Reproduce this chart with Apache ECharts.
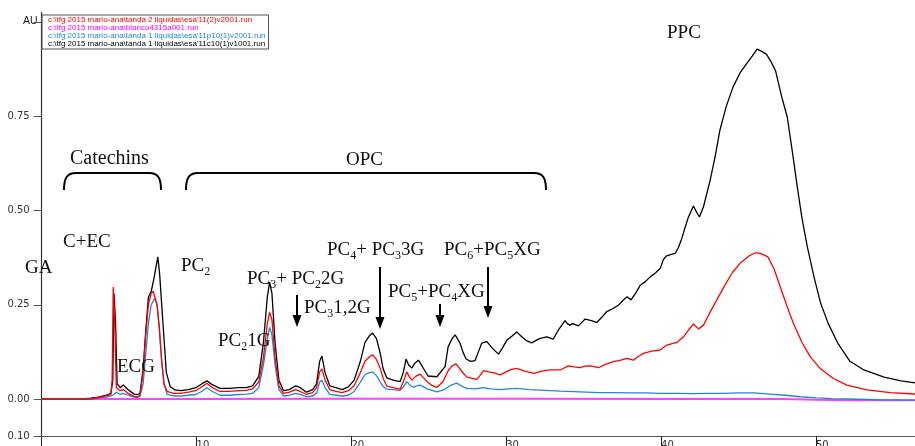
<!DOCTYPE html>
<html><head><meta charset="utf-8">
<script src="https://cdn.jsdelivr.net/npm/echarts@6/dist/echarts.min.js"></script>
<style>html,body{margin:0;padding:0;background:#fff}#c{width:915px;height:446px}</style>
</head><body><div id="c"></div>
<script>
// Run names (legend text)
const runRed = "c:\\tfg 2015 mario-ana\\tanda 2 liquidas\\esa'11(2)v2001.run";
const runMagenta = "c:\\tfg 2015 mario-ana\\blanco4315a001.run";
const runBlue = "c:\\tfg 2015 mario-ana\\tanda 1 liquidas\\esa'11p10(1)v2001.run";
const runBlack = "c:\\tfg 2015 mario-ana\\tanda 1 liquidas\\esa'11c10(1)v1001.run";

// Axis ticks
const xTickValues = [0, 10, 20, 30, 40, 50];
const xLabelValues = [10, 20, 30, 40, 50];
const yTickValues = [-0.1, 0, 0.25, 0.5, 0.75, 1.0];
const yLabelValues = [-0.1, 0, 0.25, 0.5, 0.75];
const yUnit = 'AU';

// Traces: [time (min), absorbance (AU)]
const traceBlack = [[0,0],[2.67,0],[3.17,0.002],[3.67,0.005],[4.17,0.01],[4.47,0.015],[4.59,0.05],[4.67,0.28],[4.77,0.2],[4.87,0.04],[5.07,0.03],[5.27,0.037],[5.57,0.025],[5.97,0.013],[6.2,0.012],[6.35,0.015],[6.55,0.08],[6.72,0.18],[6.89,0.27],[7.07,0.285],[7.25,0.32],[7.5,0.377],[7.62,0.33],[7.75,0.25],[7.9,0.16],[8.05,0.07],[8.3,0.033],[8.6,0.024],[8.97,0.022],[9.47,0.025],[9.95,0.03],[10.33,0.04],[10.67,0.048],[11.02,0.038],[11.52,0.028],[12.12,0.028],[12.72,0.03],[13.22,0.03],[13.62,0.035],[14.02,0.06],[14.32,0.15],[14.57,0.27],[14.72,0.31],[14.87,0.28],[15.07,0.15],[15.32,0.05],[15.62,0.022],[16.0,0.025],[16.4,0.035],[16.7,0.03],[17.1,0.018],[17.5,0.025],[17.75,0.04],[17.95,0.1],[18.1,0.114],[18.3,0.07],[18.6,0.035],[19.0,0.03],[19.4,0.025],[19.8,0.032],[20.18,0.05],[20.58,0.1],[20.88,0.15],[21.17,0.168],[21.37,0.175],[21.62,0.16],[21.87,0.12],[22.05,0.08],[22.29,0.056],[22.7,0.05],[23.15,0.046],[23.35,0.07],[23.53,0.106],[23.7,0.09],[23.9,0.082],[24.1,0.095],[24.33,0.103],[24.6,0.085],[24.95,0.061],[25.52,0.059],[26.05,0.086],[26.25,0.139],[26.5,0.16],[26.7,0.17],[27.02,0.148],[27.2,0.125],[27.41,0.106],[27.7,0.1],[27.99,0.102],[28.2,0.125],[28.42,0.148],[28.75,0.152],[29.1,0.135],[29.5,0.119],[29.75,0.135],[30.04,0.156],[30.4,0.168],[30.68,0.178],[31.0,0.165],[31.3,0.155],[31.65,0.149],[31.9,0.155],[32.19,0.161],[32.62,0.165],[33.03,0.159],[33.4,0.185],[33.8,0.208],[33.95,0.2],[34.1,0.196],[34.3,0.2],[34.66,0.194],[35.1,0.212],[35.5,0.208],[35.85,0.203],[36.2,0.218],[36.5,0.232],[36.9,0.24],[37.25,0.249],[37.55,0.262],[37.8,0.271],[38.06,0.263],[38.35,0.28],[38.66,0.302],[39.0,0.312],[39.3,0.324],[39.65,0.335],[39.95,0.347],[40.15,0.37],[40.33,0.379],[40.6,0.383],[40.91,0.386],[41.1,0.4],[41.34,0.426],[41.55,0.455],[41.77,0.483],[42.09,0.512],[42.3,0.495],[42.48,0.483],[42.74,0.51],[43.17,0.58],[43.5,0.645],[43.8,0.713],[44.2,0.775],[44.65,0.828],[45.1,0.865],[45.55,0.891],[45.9,0.91],[46.2,0.928],[46.5,0.922],[46.8,0.915],[47.1,0.895],[47.4,0.87],[47.8,0.8],[48.15,0.748],[48.5,0.65],[48.8,0.562],[49.1,0.48],[49.45,0.403],[49.9,0.32],[50.3,0.255],[50.8,0.2],[51.4,0.149],[52.2,0.1],[53.1,0.077],[54.4,0.058],[55.5,0.048],[56.5,0.042]];

const traceRed = [[0,0],[3.17,0],[3.67,0.004],[4.17,0.008],[4.47,0.012],[4.55,0.05],[4.62,0.297],[4.72,0.2],[4.82,0.03],[5.07,0.022],[5.27,0.025],[5.57,0.015],[5.97,0.007],[6.2,0.006],[6.35,0.01],[6.55,0.07],[6.72,0.17],[6.89,0.25],[7.07,0.28],[7.2,0.286],[7.32,0.288],[7.45,0.25],[7.6,0.19],[7.75,0.1],[7.9,0.04],[8.1,0.02],[8.5,0.015],[8.97,0.015],[9.47,0.018],[9.95,0.022],[10.33,0.032],[10.67,0.042],[11.02,0.03],[11.52,0.02],[12.12,0.02],[12.72,0.022],[13.22,0.023],[13.62,0.027],[14.02,0.045],[14.32,0.11],[14.57,0.2],[14.72,0.23],[14.87,0.21],[15.07,0.11],[15.32,0.035],[15.62,0.015],[16.0,0.018],[16.4,0.025],[16.7,0.02],[17.1,0.012],[17.5,0.017],[17.75,0.03],[17.95,0.072],[18.1,0.08],[18.3,0.05],[18.6,0.025],[19.0,0.02],[19.4,0.017],[19.8,0.022],[20.18,0.035],[20.58,0.07],[20.88,0.1],[21.17,0.112],[21.37,0.117],[21.62,0.105],[21.87,0.08],[22.05,0.055],[22.29,0.034],[22.7,0.03],[23.15,0.026],[23.35,0.045],[23.58,0.072],[23.75,0.058],[23.9,0.05],[24.15,0.06],[24.44,0.066],[24.8,0.05],[25.2,0.036],[25.52,0.031],[25.9,0.045],[26.25,0.075],[26.5,0.088],[26.76,0.093],[27.1,0.075],[27.45,0.058],[28.1,0.052],[28.3,0.062],[28.54,0.075],[28.85,0.072],[29.17,0.07],[29.6,0.064],[30.0,0.072],[30.3,0.078],[30.68,0.081],[31.2,0.074],[31.76,0.068],[32.3,0.074],[32.84,0.077],[33.48,0.077],[34.02,0.088],[34.4,0.085],[34.77,0.083],[35.1,0.087],[35.42,0.088],[35.96,0.083],[36.4,0.092],[36.93,0.099],[37.4,0.103],[37.8,0.108],[38.22,0.103],[38.5,0.112],[38.86,0.121],[39.4,0.127],[39.94,0.13],[40.37,0.143],[41.02,0.15],[41.45,0.165],[41.77,0.183],[42.09,0.199],[42.42,0.186],[42.74,0.196],[43.1,0.225],[43.6,0.263],[44.1,0.3],[44.6,0.335],[45.1,0.36],[45.7,0.38],[46.1,0.388],[46.5,0.385],[46.9,0.377],[47.3,0.345],[47.7,0.297],[48.1,0.25],[48.55,0.2],[49.1,0.15],[49.65,0.111],[50.3,0.08],[51.1,0.055],[52.0,0.037],[53.3,0.024],[54.8,0.017],[56.5,0.013]];

const traceBlue = [[0,0],[3.17,0],[3.67,0.003],[4.17,0.005],[4.47,0.008],[4.67,0.012],[4.82,0.018],[5.07,0.012],[5.27,0.015],[5.57,0.01],[5.97,0.005],[6.2,0.004],[6.35,0.008],[6.55,0.04],[6.72,0.12],[6.89,0.2],[7.07,0.25],[7.3,0.267],[7.45,0.25],[7.6,0.18],[7.75,0.1],[7.9,0.04],[8.1,0.012],[8.5,0.008],[8.97,0.008],[9.47,0.01],[9.95,0.012],[10.33,0.02],[10.67,0.03],[11.02,0.02],[11.52,0.01],[12.12,0.01],[12.72,0.012],[13.22,0.013],[13.62,0.015],[14.02,0.03],[14.32,0.09],[14.57,0.16],[14.72,0.19],[14.87,0.17],[15.07,0.09],[15.32,0.025],[15.62,0.008],[16.0,0.01],[16.4,0.015],[16.7,0.012],[17.1,0.006],[17.5,0.008],[17.75,0.015],[17.95,0.045],[18.1,0.05],[18.3,0.03],[18.6,0.012],[19.0,0.01],[19.4,0.008],[19.8,0.01],[20.18,0.02],[20.58,0.045],[20.88,0.065],[21.17,0.07],[21.37,0.072],[21.62,0.062],[21.87,0.045],[22.05,0.033],[22.29,0.026],[22.7,0.025],[23.15,0.023],[23.35,0.032],[23.58,0.046],[23.8,0.036],[24.0,0.031],[24.2,0.035],[24.44,0.037],[24.9,0.027],[25.52,0.019],[26.0,0.025],[26.4,0.036],[26.8,0.042],[27.1,0.035],[27.45,0.028],[28.0,0.027],[28.5,0.03],[29.0,0.027],[29.6,0.025],[30.1,0.027],[30.68,0.028],[31.5,0.025],[32.5,0.023],[33.5,0.021],[34.77,0.019],[36.0,0.017],[37.0,0.017],[38.0,0.016],[39.0,0.016],[40.0,0.015],[41.0,0.015],[42.0,0.014],[43.0,0.015],[44.0,0.015],[45.0,0.016],[46.0,0.016],[47.0,0.013],[48.0,0.01],[49.0,0.006],[50.0,0.003],[51.0,0.001],[52.0,0],[54.0,-0.002],[56.5,-0.003]];

const traceMagenta = [[0,0],[10,0],[20,0.001],[26,0.001],[31,0.001],[40,0],[48,0],[50,-0.002],[52,-0.003],[56.5,-0.003]];

const chart = echarts.init(document.getElementById('c'), null, {renderer: 'canvas'});

const serifFont = '"Liberation Serif", "DejaVu Serif", serif';
const richSub = {
  b: {fontSize: 19, fontFamily: serifFont, fill: '#111'},
  c: {fontSize: 20, fontFamily: serifFont, fill: '#111'},
  s: {fontSize: 12, fontFamily: serifFont, fill: '#111', padding: [12, 0, 0, 0]}
};
function label(x, y, text) {
  return {type: 'text', x: x, y: y, z: 100,
    style: {text: text, fontSize: 19, fontFamily: serifFont, fill: '#111', verticalAlign: 'middle', rich: richSub}};
}
function arrow(x, y1, y2) {
  return {type: 'group', z: 100, children: [
    {type: 'line', shape: {x1: x, y1: y1, x2: x, y2: y2 - 10}, style: {stroke: '#000', lineWidth: 2}},
    {type: 'polygon', shape: {points: [[x - 4.5, y2 - 12], [x + 4.5, y2 - 12], [x, y2]]}, style: {fill: '#000'}}
  ]};
}
function brace(xl, xr, yTop, yEnd) {
  const st = {stroke: '#000', lineWidth: 2, fill: null};
  return {type: 'group', z: 100, children: [
    {type: 'bezierCurve', shape: {x1: xl, y1: yEnd, cpx1: xl, cpy1: yTop + 5, cpx2: xl + 3, cpy2: yTop, x2: xl + 12, y2: yTop}, style: st},
    {type: 'line', shape: {x1: xl + 12, y1: yTop, x2: xr - 12, y2: yTop}, style: st},
    {type: 'bezierCurve', shape: {x1: xr - 12, y1: yTop, cpx1: xr - 3, cpy1: yTop, cpx2: xr, cpy2: yTop + 5, x2: xr, y2: yEnd}, style: st}
  ]};
}

const option = {
  animation: false,
  backgroundColor: '#fff',
  grid: {left: 41.7, right: 0, top: 12.6, bottom: 9.3, outerBoundsMode: 'none', containLabel: false},
  legend: {
    orient: 'vertical', left: 42, top: 15,
    itemWidth: 0, itemHeight: 0, itemGap: 0,
    padding: [1, 3, 1, 0],
    borderColor: '#555', borderWidth: 1,
    selectedMode: false,
    textStyle: {fontSize: 8, lineHeight: 7.7, fontFamily: '"Liberation Sans", Arial, sans-serif'},
    data: [
      {name: runRed, textStyle: {color: '#ff0000'}},
      {name: runMagenta, textStyle: {color: '#ff00ff'}},
      {name: runBlue, textStyle: {color: '#1f8ad0'}},
      {name: runBlack, textStyle: {color: '#000'}}
    ]
  },
  xAxis: {
    type: 'value', min: 0, max: 56.4,
    splitLine: {show: false},
    axisLine: {onZero: false, lineStyle: {color: '#555', width: 1.2}},
    axisTick: {customValues: xTickValues, length: 10, lineStyle: {color: '#222'}},
    axisLabel: {customValues: xLabelValues, align: 'left', margin: 4, fontSize: 10, color: '#333', fontFamily: '"DejaVu Sans", sans-serif'}
  },
  yAxis: {
    type: 'value', min: -0.1, max: 1.025,
    splitLine: {show: false},
    axisLine: {show: true, onZero: false, lineStyle: {color: '#333', width: 1.2}},
    axisTick: {show: true, customValues: yTickValues, length: 8, lineStyle: {color: '#555'}},
    axisLabel: {
      customValues: yLabelValues, margin: 12, fontSize: 10, color: '#333', fontFamily: '"DejaVu Sans", sans-serif',
      formatter: function (v) { return Math.abs(v).toFixed(2); }
    }
  },
  series: [
    {name: runMagenta, type: 'line', data: traceMagenta, showSymbol: false, color: '#ff00ff', lineStyle: {width: 2, color: '#ff40ff'}},
    {name: runBlack, type: 'line', data: traceBlack, showSymbol: false, color: '#000', lineStyle: {width: 1.3, color: '#000'}},
    {name: runBlue, type: 'line', data: traceBlue, showSymbol: false, color: '#1f8ad0', lineStyle: {width: 1.3, color: '#1f8ad0'}},
    {name: runRed, type: 'line', data: traceRed, showSymbol: false, color: '#ff0000', lineStyle: {width: 1.3, color: '#ff0000'}}
  ],
  graphic: [
    {type: 'text', x: 23, y: 21, style: {text: yUnit, fontSize: 10.5, fontFamily: '"Liberation Sans", Arial, sans-serif', fill: '#222', verticalAlign: 'middle'}},
    brace(64, 161, 173, 190),
    brace(186, 546, 173, 190),
    label(70, 159, '{c|Catechins}'),
    label(346, 160, '{b|OPC}'),
    label(667, 33, '{b|PPC}'),
    label(63, 242, '{b|C+EC}'),
    label(25, 268, '{b|GA}'),
    label(117, 367, '{b|ECG}'),
    label(181, 266, '{b|PC}{s|2}'),
    label(218, 341, '{b|PC}{s|2}{b|1G}'),
    label(247, 279, '{b|PC}{s|3}{b|+ PC}{s|2}{b|2G}'),
    label(304, 308, '{b|PC}{s|3}{b|1,2G}'),
    label(327, 250, '{b|PC}{s|4}{b|+ PC}{s|3}{b|3G}'),
    label(388, 292, '{b|PC}{s|5}{b|+PC}{s|4}{b|XG}'),
    label(444, 250, '{b|PC}{s|6}{b|+PC}{s|5}{b|XG}'),
    arrow(297, 295, 327),
    arrow(380, 267, 329),
    arrow(440, 304, 327),
    arrow(488, 267, 318)
  ]
};
chart.setOption(option);
</script>
</body></html>
